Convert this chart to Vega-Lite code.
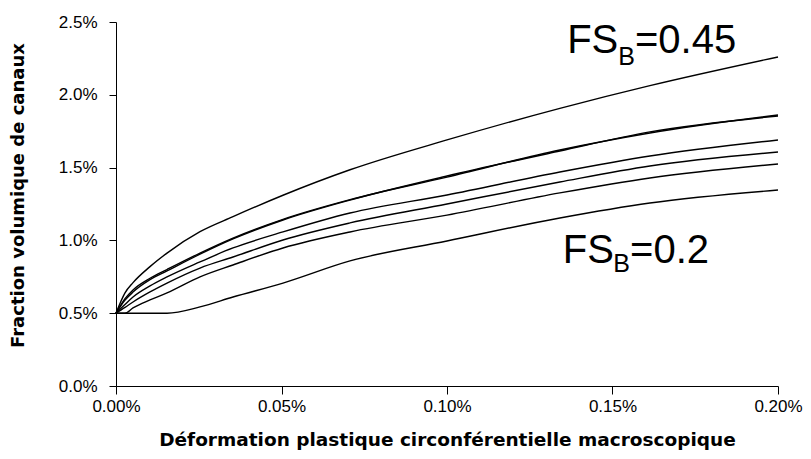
{
  "$schema": "https://vega.github.io/schema/vega-lite/v6.json",
  "width": 662,
  "height": 364,
  "autosize": {"type": "none"},
  "padding": {"left": 116, "top": 22, "right": 33, "bottom": 73},
  "background": "white",
  "config": {"view": {"stroke": null}, "font": "Liberation Sans"},
  "datasets": {
    "curves": [
      {"curve": "FSB=0.45", "x": 0, "y": 0.5},
      {"curve": "FSB=0.45", "x": 0.00272, "y": 0.64},
      {"curve": "FSB=0.45", "x": 0.00514, "y": 0.71},
      {"curve": "FSB=0.45", "x": 0.01027, "y": 0.82},
      {"curve": "FSB=0.45", "x": 0.01541, "y": 0.913},
      {"curve": "FSB=0.45", "x": 0.02538, "y": 1.06},
      {"curve": "FSB=0.45", "x": 0.03535, "y": 1.163},
      {"curve": "FSB=0.45", "x": 0.05045, "y": 1.31},
      {"curve": "FSB=0.45", "x": 0.0707, "y": 1.485},
      {"curve": "FSB=0.45", "x": 0.1, "y": 1.69},
      {"curve": "FSB=0.45", "x": 0.1341, "y": 1.907},
      {"curve": "FSB=0.45", "x": 0.1613, "y": 2.063},
      {"curve": "FSB=0.45", "x": 0.2, "y": 2.26},

      {"curve": "c2", "x": 0, "y": 0.5},
      {"curve": "c2", "x": 0.00272, "y": 0.6},
      {"curve": "c2", "x": 0.00514, "y": 0.66},
      {"curve": "c2", "x": 0.01027, "y": 0.74},
      {"curve": "c2", "x": 0.01541, "y": 0.8},
      {"curve": "c2", "x": 0.02538, "y": 0.913},
      {"curve": "c2", "x": 0.03535, "y": 1.016},
      {"curve": "c2", "x": 0.05045, "y": 1.145},
      {"curve": "c2", "x": 0.0707, "y": 1.28},
      {"curve": "c2", "x": 0.1, "y": 1.435},
      {"curve": "c2", "x": 0.1341, "y": 1.621},
      {"curve": "c2", "x": 0.1613, "y": 1.738},
      {"curve": "c2", "x": 0.2, "y": 1.861},

      {"curve": "c3", "x": 0, "y": 0.5},
      {"curve": "c3", "x": 0.00272, "y": 0.59},
      {"curve": "c3", "x": 0.00514, "y": 0.645},
      {"curve": "c3", "x": 0.01027, "y": 0.73},
      {"curve": "c3", "x": 0.01541, "y": 0.79},
      {"curve": "c3", "x": 0.02538, "y": 0.905},
      {"curve": "c3", "x": 0.03535, "y": 1.01},
      {"curve": "c3", "x": 0.05045, "y": 1.14},
      {"curve": "c3", "x": 0.0707, "y": 1.277},
      {"curve": "c3", "x": 0.1, "y": 1.442},
      {"curve": "c3", "x": 0.1341, "y": 1.614},
      {"curve": "c3", "x": 0.1613, "y": 1.745},
      {"curve": "c3", "x": 0.2, "y": 1.854},

      {"curve": "c4", "x": 0, "y": 0.5},
      {"curve": "c4", "x": 0.00272, "y": 0.56},
      {"curve": "c4", "x": 0.00514, "y": 0.611},
      {"curve": "c4", "x": 0.01027, "y": 0.687},
      {"curve": "c4", "x": 0.01541, "y": 0.749},
      {"curve": "c4", "x": 0.02538, "y": 0.852},
      {"curve": "c4", "x": 0.03535, "y": 0.948},
      {"curve": "c4", "x": 0.05045, "y": 1.058},
      {"curve": "c4", "x": 0.0707, "y": 1.188},
      {"curve": "c4", "x": 0.1, "y": 1.312},
      {"curve": "c4", "x": 0.1341, "y": 1.47},
      {"curve": "c4", "x": 0.1613, "y": 1.58},
      {"curve": "c4", "x": 0.2, "y": 1.69},

      {"curve": "c5", "x": 0, "y": 0.5},
      {"curve": "c5", "x": 0.00272, "y": 0.54},
      {"curve": "c5", "x": 0.00514, "y": 0.577},
      {"curve": "c5", "x": 0.01027, "y": 0.646},
      {"curve": "c5", "x": 0.01541, "y": 0.707},
      {"curve": "c5", "x": 0.02538, "y": 0.81},
      {"curve": "c5", "x": 0.03535, "y": 0.886},
      {"curve": "c5", "x": 0.05045, "y": 1.003},
      {"curve": "c5", "x": 0.0707, "y": 1.12},
      {"curve": "c5", "x": 0.1, "y": 1.25},
      {"curve": "c5", "x": 0.1341, "y": 1.401},
      {"curve": "c5", "x": 0.1613, "y": 1.511},
      {"curve": "c5", "x": 0.2, "y": 1.607},

      {"curve": "c6", "x": 0, "y": 0.5},
      {"curve": "c6", "x": 0.00272, "y": 0.5},
      {"curve": "c6", "x": 0.00514, "y": 0.536},
      {"curve": "c6", "x": 0.01027, "y": 0.591},
      {"curve": "c6", "x": 0.01541, "y": 0.639},
      {"curve": "c6", "x": 0.02538, "y": 0.749},
      {"curve": "c6", "x": 0.03535, "y": 0.831},
      {"curve": "c6", "x": 0.05045, "y": 0.948},
      {"curve": "c6", "x": 0.0707, "y": 1.058},
      {"curve": "c6", "x": 0.1, "y": 1.174},
      {"curve": "c6", "x": 0.1341, "y": 1.326},
      {"curve": "c6", "x": 0.1613, "y": 1.429},
      {"curve": "c6", "x": 0.2, "y": 1.525},

      {"curve": "FSB=0.2", "x": 0, "y": 0.5},
      {"curve": "FSB=0.2", "x": 0.01541, "y": 0.5},
      {"curve": "FSB=0.2", "x": 0.02538, "y": 0.543},
      {"curve": "FSB=0.2", "x": 0.03535, "y": 0.611},
      {"curve": "FSB=0.2", "x": 0.05045, "y": 0.707},
      {"curve": "FSB=0.2", "x": 0.0707, "y": 0.859},
      {"curve": "FSB=0.2", "x": 0.1, "y": 0.996},
      {"curve": "FSB=0.2", "x": 0.1341, "y": 1.154},
      {"curve": "FSB=0.2", "x": 0.1613, "y": 1.257},
      {"curve": "FSB=0.2", "x": 0.2, "y": 1.346}
    ],
    "notes": [
      {"text": "FS", "kind": "main", "x": 0.1363, "y": 2.287},
      {"text": "B", "kind": "sub", "x": 0.1517, "y": 2.205},
      {"text": "=0.45", "kind": "main", "x": 0.1568, "y": 2.287},
      {"text": "FS", "kind": "main", "x": 0.135, "y": 0.845},
      {"text": "B", "kind": "sub", "x": 0.1502, "y": 0.783},
      {"text": "=0.2", "kind": "main", "x": 0.1553, "y": 0.845}
    ]
  },
  "layer": [
    {
      "data": {"name": "curves"},
      "mark": {"type": "line", "color": "black", "strokeWidth": 1.4, "interpolate": "monotone"},
      "encoding": {
        "x": {
          "field": "x", "type": "quantitative",
          "scale": {"domain": [0, 0.2], "nice": false},
          "axis": {
            "title": "Déformation plastique circonférentielle macroscopique",
            "values": [0, 0.05, 0.1, 0.15, 0.2],
            "labelExpr": "format(datum.value, '.2f') + '%'",
            "grid": false,
            "domainColor": "black", "tickColor": "black", "tickSize": 8,
            "labelFont": "Liberation Sans", "labelFontSize": 17, "labelColor": "black",
            "labelPadding": 4, "labelFlush": false, "labelOverlap": false,
            "titleFont": "DejaVu Sans", "titleFontSize": 18.5, "titleFontWeight": "bold",
            "titleColor": "black", "titlePadding": 16
          }
        },
        "y": {
          "field": "y", "type": "quantitative",
          "scale": {"domain": [0, 2.5], "nice": false},
          "axis": {
            "title": "Fraction volumique de canaux",
            "values": [0, 0.5, 1, 1.5, 2, 2.5],
            "labelExpr": "format(datum.value, '.1f') + '%'",
            "grid": false,
            "domainColor": "black", "tickColor": "black", "tickSize": 7,
            "labelFont": "Liberation Sans", "labelFontSize": 17, "labelColor": "black",
            "labelPadding": 12, "labelFlush": false, "labelOverlap": false,
            "titleFont": "DejaVu Sans", "titleFontSize": 18, "titleFontWeight": "bold",
            "titleColor": "black", "titlePadding": 31, "titleY": 173
          }
        },
        "detail": {"field": "curve"}
      }
    },
    {
      "data": {"name": "notes"},
      "transform": [{"filter": "datum.kind == 'main'"}],
      "mark": {"type": "text", "font": "Liberation Sans", "fontSize": 40, "align": "left", "baseline": "alphabetic", "color": "black"},
      "encoding": {
        "x": {"field": "x", "type": "quantitative"},
        "y": {"field": "y", "type": "quantitative"},
        "text": {"field": "text"}
      }
    },
    {
      "data": {"name": "notes"},
      "transform": [{"filter": "datum.kind == 'sub'"}],
      "mark": {"type": "text", "font": "Liberation Sans", "fontSize": 25, "align": "left", "baseline": "alphabetic", "color": "black"},
      "encoding": {
        "x": {"field": "x", "type": "quantitative"},
        "y": {"field": "y", "type": "quantitative"},
        "text": {"field": "text"}
      }
    }
  ]
}
